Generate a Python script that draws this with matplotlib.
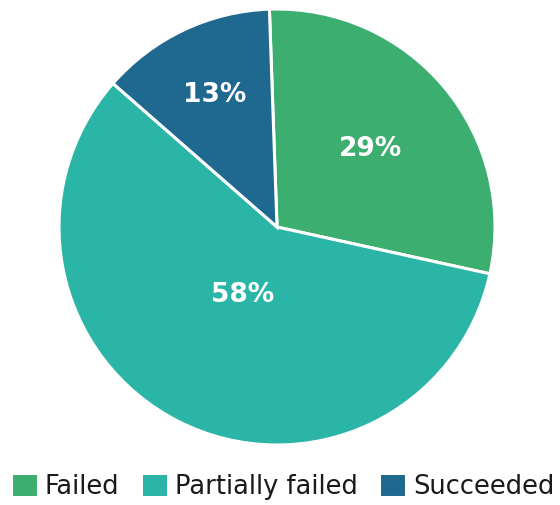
import numpy as np
import matplotlib.pyplot as plt

labels = ['Failed', 'Partially failed', 'Succeeded']
shares = [29, 58, 13]
colors = ['#3CAE6F', '#2BB5A7', '#1F6890']
# radial position of each percentage label (fraction of radius)
label_r = [0.56, 0.35, 0.67]

fig = plt.figure(figsize=(5.6, 5.05), dpi=100)
ax = fig.add_axes([59/560, 60/505, 436/560, 436/505])

wedges, _ = ax.pie(shares, colors=colors, startangle=92, counterclock=False,
                   radius=1.0,
                   wedgeprops=dict(edgecolor='white', linewidth=2.2))

for w, val, r in zip(wedges, shares, label_r):
    mid = np.deg2rad((w.theta1 + w.theta2) / 2)
    ax.text(r*np.cos(mid), r*np.sin(mid), '{}%'.format(val),
            ha='center', va='center', color='white',
            fontsize=19, fontweight='semibold')

ax.set_xlim(-1, 1)
ax.set_ylim(-1, 1)
ax.set_aspect('equal')
ax.axis('off')

fig.legend(wedges, labels, loc='lower center', bbox_to_anchor=(0.505, -0.035),
           ncol=3, frameon=False, fontsize=18.5,
           handlelength=1.05, handleheight=1.05, handletextpad=0.25,
           columnspacing=0.85, labelcolor='#1a1a1a')

fig.savefig('out.png', dpi=100)
